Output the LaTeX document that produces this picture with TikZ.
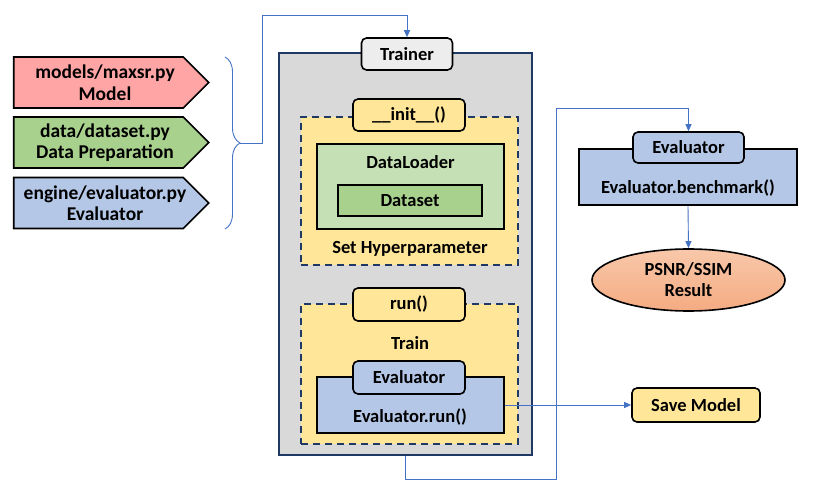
\documentclass[tikz,border=0pt]{standalone}
\usepackage{fontspec}
\setmainfont{Carlito}
\usetikzlibrary{arrows.meta,shapes.geometric,shapes.symbols,decorations.pathreplacing}
\definecolor{mxNavy}{HTML}{1F3864}
\definecolor{mxLink}{HTML}{4472C4}
\definecolor{mxGray}{HTML}{D9D9D9}
\definecolor{mxLight}{HTML}{EDEDED}
\definecolor{mxYellow}{HTML}{FFE699}
\definecolor{mxRed}{HTML}{FFA5A5}
\definecolor{mxGreen}{HTML}{A9D18E}
\definecolor{mxPale}{HTML}{C5E0B4}
\definecolor{mxBlue}{HTML}{B4C7E7}
\definecolor{mxPeachTop}{HTML}{F8C8AA}
\definecolor{mxPeachBot}{HTML}{F4AB82}
\tikzset{
  mx font/.style={font=\fontsize{18.5}{21}\selectfont\bfseries},
  mx file/.style={signal, signal to=east, signal pointer angle=90, draw=black, line width=1.6pt, minimum width=195pt, minimum height=51pt, inner sep=0pt},
  mx file text/.style={font=\fontsize{19.5}{21.5}\selectfont\bfseries, align=center},
  mx frame/.style={draw=mxNavy, fill=mxGray, line width=2pt, inner sep=0pt},
  mx dash box/.style={draw=mxNavy, fill=mxYellow, line width=1.6pt, dash pattern=on 7pt off 5pt, inner sep=0pt},
  mx box/.style={draw=black, line width=1.6pt, inner sep=0pt, mx font},
  mx tag/.style={mx box, rounded corners=5pt},
  mx text/.style={mx font, align=center},
  mx link/.style={draw=mxLink, line width=0.9pt},
  mx arrow/.style={mx link, -{Triangle[length=7pt,width=6pt]}},
}
\begin{document}
\begin{tikzpicture}[x=1pt,y=-1pt]
  \useasboundingbox (0,0) rectangle (815,494);
  \node[mx file, fill=mxRed] (model) at (98.5,82.5) {};
  \node[mx file text] (modeltxt) at (105,82.5) {models/maxsr.py\\Model};
  \node[mx file, fill=mxGreen] (data) at (98.5,142.5) {};
  \node[mx file text] (datatxt) at (105,142.5) {data/dataset.py\\Data Preparation};
  \node[mx file, fill=mxBlue] (engine) at (98.5,203) {};
  \node[mx file text] (enginetxt) at (105,203) {engine/evaluator.py\\Evaluator};
  \draw[mx link, decorate, decoration={brace, amplitude=15pt}] (225,57) -- (225,229);
  \coordinate (bracetip) at (240,143);
  \coordinate (upA) at (262,15);

  \node[mx frame, minimum width=253pt, minimum height=402pt] (frame) at (405.5,254) {};
  \node[mx tag, fill=mxLight, minimum width=91pt, minimum height=32pt] (trainer) at (407,54) {Trainer};

  \node[mx dash box, minimum width=217pt, minimum height=148pt] (initbox) at (409.5,191) {};
  \node[mx tag, fill=mxYellow, minimum width=112pt, minimum height=32pt] (inittag) at (409,115) {\_\_init\_\_()};
  \node[mx box, fill=mxPale, minimum width=187pt, minimum height=85pt] (loader) at (410.5,186.5) {};
  \node[mx text] (loadertxt) at (410.5,162) {DataLoader};
  \node[mx box, fill=mxGreen, minimum width=144pt, minimum height=31pt] (dataset) at (410,200.5) {Dataset};
  \node[mx text] (hyper) at (410,249) {Set Hyperparameter};

  \node[mx dash box, minimum width=217pt, minimum height=140pt] (runbox) at (409.5,374) {};
  \node[mx tag, fill=mxYellow, minimum width=112pt, minimum height=33pt] (runtag) at (409,304.5) {run()};
  \node[mx text] (train) at (410,343) {Train};
  \node[mx box, fill=mxBlue, minimum width=187pt, minimum height=56pt] (evalrun) at (410.5,405) {};
  \node[mx tag, fill=mxBlue, minimum width=112pt, minimum height=33pt] (evaltag) at (409,377.5) {Evaluator};
  \node[mx text] (evalruntxt) at (410,417) {Evaluator.run()};

  \node[mx tag, fill=mxYellow, minimum width=128pt, minimum height=34pt] (save) at (696,405) {Save Model};

  \node[mx box, fill=mxBlue, minimum width=218pt, minimum height=56pt] (bench) at (688,177) {};
  \node[mx tag, fill=mxBlue, minimum width=111pt, minimum height=31pt] (benchtag) at (688.5,147.5) {Evaluator};
  \node[mx text] (benchtxt) at (688,188) {Evaluator.benchmark()};
  \node[ellipse, draw=black, line width=1.6pt, top color=mxPeachTop, bottom color=mxPeachBot, minimum width=193pt, minimum height=62pt, inner sep=0pt, mx text] (result) at (688.5,280) {PSNR/SSIM\\Result};

  \coordinate (turnA) at (556,479);
  \coordinate (turnB) at (556,108);
  \draw[mx arrow] (bracetip) -| (upA) -| (trainer.north);
  \draw[mx arrow] (evalrun.east) -- (save.west);
  \draw[mx arrow] (frame.south) |- (turnA) -- (turnB) -| (benchtag.north);
  \draw[mx arrow] (bench.south) -- (result.north);
\end{tikzpicture}
\end{document}
